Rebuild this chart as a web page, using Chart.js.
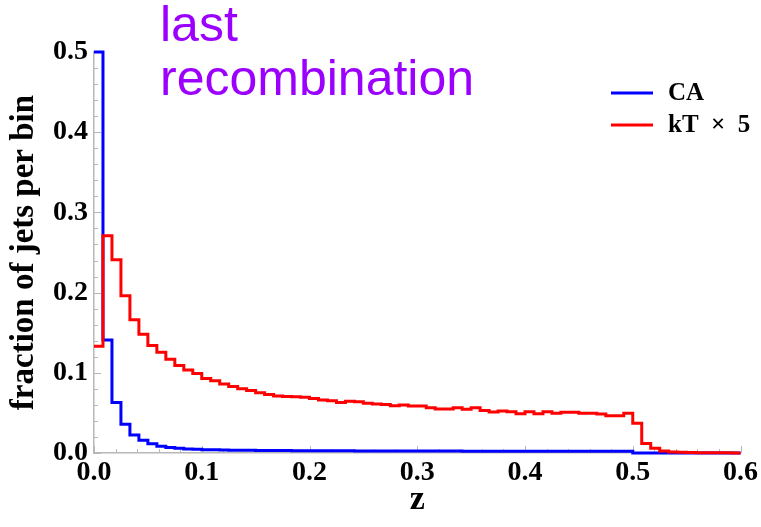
<!DOCTYPE html>
<html>
<head>
<meta charset="utf-8">
<script src="https://cdn.jsdelivr.net/npm/chart.js@4/dist/chart.umd.min.js"></script>
<style>
  html, body { margin: 0; padding: 0; background: #ffffff; }
  #wrap { width: 761px; height: 527px; }
</style>
</head>
<body>
<div id="wrap"><canvas id="c" width="761" height="527"></canvas></div>
<script>
// ---- data ----
const binWidth = 1 / 120;           // histogram bin width in z
const xTickLabels = ['0.0', '0.1', '0.2', '0.3', '0.4', '0.5', '0.6'];
const yTickLabels = ['0.0', '0.1', '0.2', '0.3', '0.4', '0.5'];
const seriesNames = ['CA', 'kT \u00d7 5'];

// CA: fraction of jets per bin
const caValues = [
  0.500, 0.141, 0.063, 0.036, 0.0225, 0.016, 0.0115, 0.0085, 0.0068, 0.0058,
  0.0050, 0.0046, 0.0042, 0.0039, 0.0037, 0.0035, 0.0034, 0.0033, 0.0032, 0.0031,
  0.0030, 0.0030, 0.0029, 0.0029, 0.0028, 0.0028, 0.0027, 0.0027, 0.0027, 0.0026,
  0.0026, 0.0026, 0.0025, 0.0025, 0.0025, 0.0025, 0.0024, 0.0024, 0.0024, 0.0024,
  0.0024, 0.0023, 0.0023, 0.0023, 0.0023, 0.0023, 0.0023, 0.0022, 0.0022, 0.0022,
  0.0022, 0.0022, 0.0022, 0.0022, 0.0022, 0.0021, 0.0021, 0.0021, 0.0021, 0.0021,
  0.0, 0.0, 0.0, 0.0, 0.0, 0.0, 0.0, 0.0, 0.0, 0.0, 0.0, 0.0
];

// kT (x5): fraction of jets per bin
const ktValues = [
  0.133, 0.271, 0.241, 0.196, 0.166, 0.148, 0.134, 0.1255, 0.117, 0.109,
  0.1035, 0.099, 0.093, 0.090, 0.086, 0.083, 0.080, 0.078, 0.075, 0.073,
  0.071, 0.0705, 0.070, 0.0695, 0.068, 0.066, 0.065, 0.063, 0.0645, 0.064,
  0.062, 0.061, 0.0605, 0.059, 0.060, 0.0585, 0.0585, 0.0565, 0.055, 0.0548,
  0.0565, 0.0545, 0.0565, 0.053, 0.051, 0.0525, 0.0515, 0.0488, 0.0515, 0.0488,
  0.0515, 0.0495, 0.0507, 0.0507, 0.0495, 0.0495, 0.0486, 0.0465, 0.0465, 0.0495,
  0.037, 0.012, 0.006, 0.0025, 0.0012, 0.0008, 0.0005, 0.0004, 0.0003, 0.0002,
  0.0002, 0.0001
];

// ---- build step points (left bin edges + final right edge) ----
function toSteps(vals) {
  const pts = vals.map((v, i) => ({ x: i * binWidth, y: v }));
  pts.push({ x: vals.length * binWidth, y: vals[vals.length - 1] });
  return pts;
}

const AXIS_GRAY = '#b8b8b8';
const SERIF = '"Liberation Serif", "Times New Roman", serif';

const decorPlugin = {
  id: 'decor',
  beforeDatasetsDraw(chart) {
    const { ctx, scales: { x, y }, chartArea: a } = chart;
    ctx.save();
    ctx.strokeStyle = AXIS_GRAY;
    ctx.lineWidth = 1;
    // x ticks (inward)
    for (let k = 0; k <= 30; k++) {
      const v = k * 0.02;
      const px = Math.round(x.getPixelForValue(v)) + 0.5;
      const len = (k % 5 === 0) ? 7 : 4;
      ctx.beginPath();
      ctx.moveTo(px, a.bottom);
      ctx.lineTo(px, a.bottom - len);
      ctx.stroke();
    }
    // y ticks (inward)
    for (let k = 0; k <= 25; k++) {
      const v = k * 0.02;
      const py = Math.round(y.getPixelForValue(v)) + 0.5;
      const len = (k % 5 === 0) ? 7 : 4;
      ctx.beginPath();
      ctx.moveTo(a.left, py);
      ctx.lineTo(a.left + len, py);
      ctx.stroke();
    }
    ctx.restore();
  },
  afterDraw(chart) {
    const { ctx } = chart;
    ctx.save();
    // annotation text
    ctx.fillStyle = '#9b00ff';
    ctx.font = '50px "Liberation Sans", Arial, sans-serif';
    ctx.textBaseline = 'alphabetic';
    ctx.textAlign = 'left';
    ctx.fillText('last', 160, 41);
    ctx.fillText('recombination', 160, 95);
    // legend
    const colors = [chart.data.datasets[0].borderColor, chart.data.datasets[1].borderColor];
    const rows = [93, 125];
    const shown = ['CA', 'kT\u2002\u00d7\u20025'];
    ctx.lineWidth = 3;
    for (let i = 0; i < 2; i++) {
      ctx.strokeStyle = colors[i];
      ctx.beginPath();
      ctx.moveTo(611, rows[i]);
      ctx.lineTo(653, rows[i]);
      ctx.stroke();
      ctx.fillStyle = '#000';
      ctx.font = 'bold 25px ' + SERIF;
      ctx.textBaseline = 'middle';
      ctx.fillText(shown[i], 668, rows[i] + 1);
    }
    ctx.restore();
  }
};

new Chart(document.getElementById('c'), {
  type: 'line',
  data: {
    datasets: [
      {
        label: seriesNames[0],
        data: toSteps(caValues),
        borderColor: '#0000ff',
        borderWidth: 3,
        stepped: 'before',
        pointRadius: 0,
        fill: false,
        clip: 6,
        order: 2
      },
      {
        label: seriesNames[1],
        data: toSteps(ktValues),
        borderColor: '#ff0000',
        borderWidth: 3,
        stepped: 'before',
        pointRadius: 0,
        fill: false,
        clip: 6,
        order: 1
      }
    ]
  },
  options: {
    responsive: false,
    animation: false,
    devicePixelRatio: 1,
    layout: { padding: { top: 52, right: 20, left: 0, bottom: 0 } },
    plugins: {
      legend: { display: false },
      tooltip: { enabled: false },
      title: { display: false }
    },
    scales: {
      x: {
        type: 'linear',
        min: 0,
        max: 0.6,
        grid: { display: false, drawTicks: false },
        border: { display: true, color: AXIS_GRAY, width: 1.5 },
        ticks: {
          stepSize: 0.1,
          padding: 3,
          color: '#000',
          font: { family: SERIF, weight: 'bold', size: 28 },
          maxRotation: 0,
          callback: (v) => xTickLabels[Math.round(v * 10)]
        },
        title: {
          display: true,
          text: 'z',
          color: '#000',
          font: { family: SERIF, weight: 'bold', size: 34 },
          padding: { top: 0, bottom: 6 }
        },
        afterFit: (s) => { s.height = 74; }
      },
      y: {
        min: 0,
        max: 0.5,
        grid: { display: false, drawTicks: false },
        border: { display: true, color: AXIS_GRAY, width: 1.5 },
        ticks: {
          stepSize: 0.1,
          padding: 6,
          color: '#000',
          font: { family: SERIF, weight: 'bold', size: 28 },
          callback: (v) => yTickLabels[Math.round(v * 10)]
        },
        title: {
          display: true,
          text: 'fraction of jets per bin',
          color: '#000',
          font: { family: SERIF, weight: 'bold', size: 33 },
          padding: { top: 5, bottom: 0 }
        },
        afterFit: (s) => { s.width = 94; }
      }
    }
  },
  plugins: [decorPlugin]
});
</script>
</body>
</html>
